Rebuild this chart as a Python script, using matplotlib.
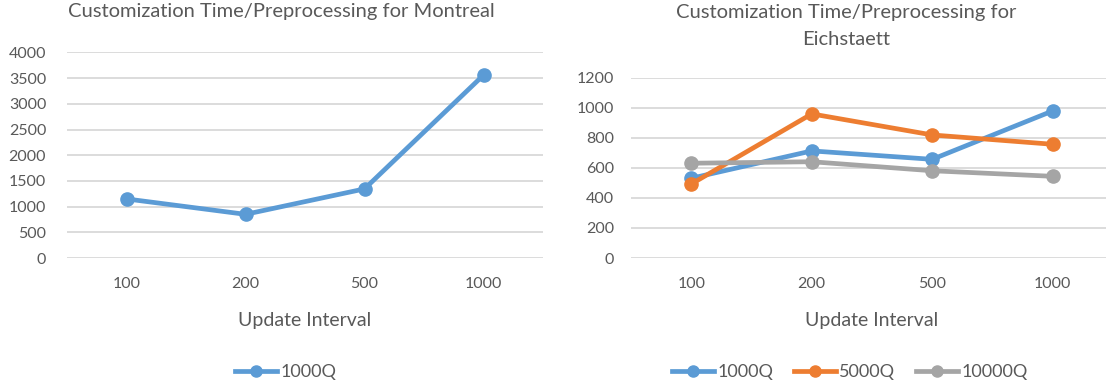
import matplotlib.pyplot as plt
from matplotlib.lines import Line2D

# data
intervals = ['100', '200', '500', '1000']
montreal_1000q = [1150, 850, 1345, 3560]
eich_1000q = [530, 712, 656, 978]
eich_5000q = [492, 958, 818, 756]
eich_10000q = [630, 640, 580, 543]

BLUE = '#5B9BD5'
ORANGE = '#ED7D31'
GRAY = '#A5A5A5'
TXT = '#595959'
GRID = '#D9D9D9'

plt.rcParams['font.family'] = ['Lato', 'DejaVu Sans']

W, H = 1106, 387
fig = plt.figure(figsize=(W / 100, H / 100), dpi=100)
fig.patch.set_facecolor('white')

# axes boxes in pixels: left, right, bottom(y of 0), top(y of max)
ax1 = fig.add_axes([67 / W, 1 - 258 / H, 476 / W, 205.5 / H])
ax2 = fig.add_axes([631 / W, 1 - 258 / H, 482 / W, 180.5 / H])


def style(ax, ymax, step, ypad):
    ax.set_xlim(-0.5, 3.5)
    ax.set_ylim(0, ymax)
    ax.set_yticks(range(0, ymax + 1, step))
    ax.grid(axis='y', color=GRID, lw=1.3)
    ax.set_axisbelow(True)
    for s in ax.spines.values():
        s.set_visible(False)
    ax.tick_params(length=0, colors=TXT, labelsize=11.5)
    ax.tick_params(axis='x', pad=14)
    ax.tick_params(axis='y', pad=ypad)
    ax.set_xlabel('Update Interval', color=TXT, fontsize=14, labelpad=15)


x = range(len(intervals))
kw = dict(lw=3.4, marker='o', ms=9.5, solid_capstyle='round', clip_on=False)

ax1.plot(x, montreal_1000q, color=BLUE, **kw)
ax1.set_xticks(list(x), intervals)
style(ax1, 4000, 500, 15)

ax2.plot(x, eich_1000q, color=BLUE, **kw)
ax2.plot(x, eich_5000q, color=ORANGE, **kw)
ax2.plot(x, eich_10000q, color=GRAY, **kw)
ax2.set_xticks(list(x), intervals)
style(ax2, 1200, 200, 12)

fig.text(281 / W, 1 - 12 / H, 'Customization Time/Preprocessing for Montreal',
         color=TXT, fontsize=14.5, ha='center', va='center')
fig.text(846 / W, 1 - 26 / H, 'Customization Time/Preprocessing for\nEichstaett',
         color=TXT, fontsize=14.5, ha='center', va='center', linespacing=1.75)


def handle(c):
    return Line2D([], [], color=c, lw=3.4, marker='o', ms=8)


leg_kw = dict(loc='center', frameon=False, fontsize=13, labelcolor=TXT,
              handlelength=2.3, handletextpad=0.2)
fig.legend([handle(BLUE)], ['1000Q'], bbox_to_anchor=(286 / W, 1 - 372 / H), **leg_kw)
fig.legend([handle(BLUE), handle(ORANGE), handle(GRAY)], ['1000Q', '5000Q', '10000Q'],
           bbox_to_anchor=(850 / W, 1 - 372 / H), ncol=3, columnspacing=1.15, **leg_kw)

fig.savefig('out.png', dpi=100, facecolor='white')
